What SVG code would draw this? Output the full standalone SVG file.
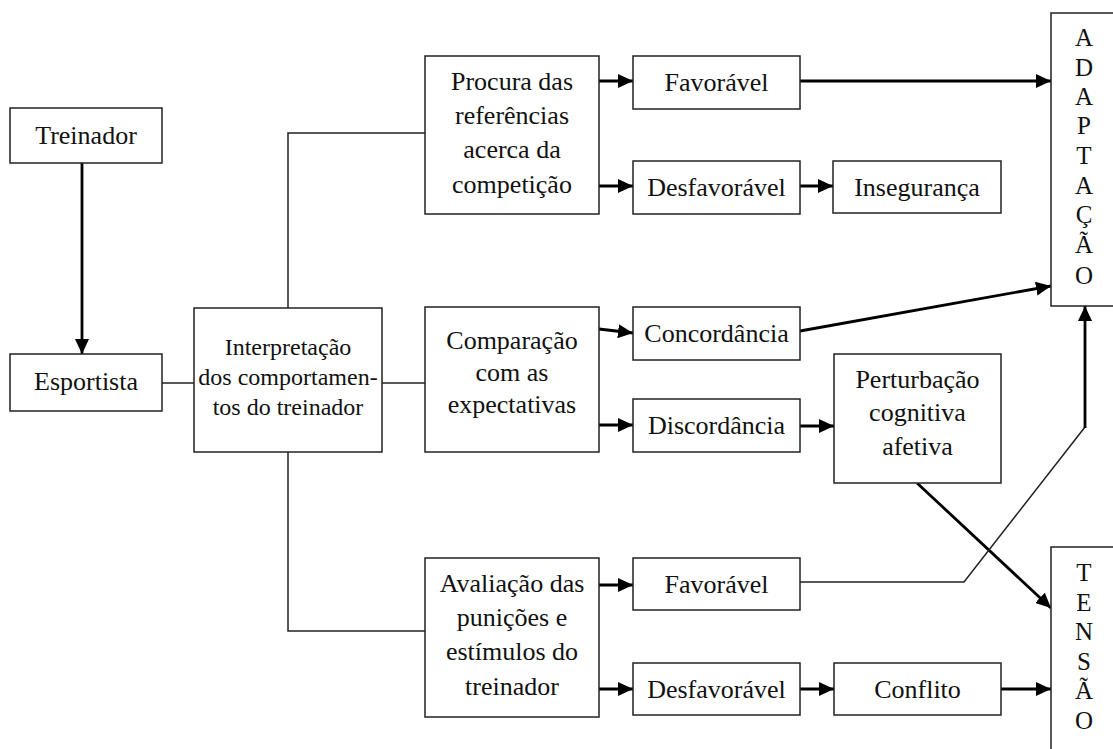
<svg xmlns="http://www.w3.org/2000/svg" width="1113" height="749" viewBox="0 0 1113 749">
<style>
  .box { fill: #fff; stroke: #222; stroke-width: 1.5; }
  .t { font-family: "Liberation Serif", "Times New Roman", serif; font-size: 26px; fill: #111; text-anchor: middle; }
  .ts { font-family: "Liberation Serif", "Times New Roman", serif; font-size: 24px; fill: #111; text-anchor: middle; }
  .v { font-family: "Liberation Serif", "Times New Roman", serif; font-size: 25px; fill: #111; text-anchor: middle; }
  .thin { fill: none; stroke: #222; stroke-width: 1.5; }
  .thick { fill: none; stroke: #000; stroke-width: 2.8; marker-end: url(#ah); }
</style>
<defs>
  <marker id="ah" markerUnits="userSpaceOnUse" markerWidth="15" markerHeight="14" refX="15" refY="7" orient="auto">
    <path d="M0,0 L15,7 L0,14 z" fill="#000"/>
  </marker>
</defs>
<rect width="1113" height="749" fill="#fff"/>

<g id="connectors">
  <line class="thick" x1="82" y1="163" x2="82" y2="354"/>
  <line class="thin" x1="162" y1="383" x2="194" y2="383"/>
  <path class="thin" d="M288,308 V133 H425"/>
  <path class="thin" d="M382,383 H425"/>
  <path class="thin" d="M288,452 V631 H425"/>
  <line class="thick" x1="599" y1="81" x2="633" y2="81"/>
  <line class="thick" x1="599" y1="186" x2="633" y2="186"/>
  <line class="thick" x1="800" y1="81" x2="1051" y2="81"/>
  <line class="thick" x1="800" y1="186" x2="833" y2="186"/>
  <line class="thick" x1="599" y1="329" x2="633" y2="333"/>
  <line class="thick" x1="599" y1="425" x2="633" y2="425"/>
  <line class="thick" x1="800" y1="331" x2="1051" y2="286"/>
  <line class="thick" x1="800" y1="426" x2="834" y2="426"/>
  <line class="thick" x1="917" y1="483" x2="1051" y2="608"/>
  <line class="thick" x1="599" y1="585" x2="633" y2="585"/>
  <line class="thick" x1="599" y1="689" x2="633" y2="689"/>
  <line class="thick" x1="800" y1="689" x2="834" y2="689"/>
  <line class="thick" x1="1001" y1="689" x2="1051" y2="689"/>
  <path class="thin" d="M800,582 H964 L1085,427"/>
  <line class="thick" x1="1085" y1="428" x2="1085" y2="306"/>
</g>

<g id="treinador">
  <rect class="box" x="10" y="108" width="152" height="55"/>
  <text class="t" x="86" y="144">Treinador</text>
</g>
<g id="esportista">
  <rect class="box" x="10" y="354" width="152" height="57"/>
  <text class="t" x="86" y="390">Esportista</text>
</g>
<g id="interpretacao">
  <rect class="box" x="194" y="308" width="188" height="144"/>
  <text class="ts" x="288" y="355">Interpretação</text>
  <text class="ts" x="288" y="385">dos comportamen-</text>
  <text class="ts" x="288" y="415">tos do treinador</text>
</g>
<g id="procura">
  <rect class="box" x="425" y="56" width="174" height="158"/>
  <text class="t" x="512" y="90">Procura das</text>
  <text class="t" x="512" y="124">referências</text>
  <text class="t" x="512" y="158">acerca da</text>
  <text class="t" x="512" y="193">competição</text>
</g>
<g id="favoravel1">
  <rect class="box" x="633" y="56" width="167" height="53"/>
  <text class="t" x="716.5" y="91">Favorável</text>
</g>
<g id="desfavoravel1">
  <rect class="box" x="633" y="161" width="167" height="53"/>
  <text class="t" x="716.5" y="196">Desfavorável</text>
</g>
<g id="inseguranca">
  <rect class="box" x="833" y="161" width="168" height="52"/>
  <text class="t" x="917" y="196">Insegurança</text>
</g>
<g id="comparacao">
  <rect class="box" x="425" y="307" width="174" height="145"/>
  <text class="t" x="512" y="349">Comparação</text>
  <text class="t" x="512" y="381">com as</text>
  <text class="t" x="512" y="413">expectativas</text>
</g>
<g id="concordancia">
  <rect class="box" x="633" y="307" width="167" height="53"/>
  <text class="t" x="716.5" y="342">Concordância</text>
</g>
<g id="discordancia">
  <rect class="box" x="633" y="399" width="167" height="53"/>
  <text class="t" x="716.5" y="434">Discordância</text>
</g>
<g id="perturbacao">
  <rect class="box" x="834" y="354" width="167" height="129"/>
  <text class="t" x="917.5" y="388">Perturbação</text>
  <text class="t" x="917.5" y="421">cognitiva</text>
  <text class="t" x="917.5" y="455">afetiva</text>
</g>
<g id="avaliacao">
  <rect class="box" x="425" y="558" width="174" height="159"/>
  <text class="t" x="512" y="592">Avaliação das</text>
  <text class="t" x="512" y="626">punições e</text>
  <text class="t" x="512" y="660">estímulos do</text>
  <text class="t" x="512" y="695">treinador</text>
</g>
<g id="favoravel2">
  <rect class="box" x="633" y="558" width="167" height="52"/>
  <text class="t" x="716.5" y="593">Favorável</text>
</g>
<g id="desfavoravel2">
  <rect class="box" x="633" y="663" width="167" height="52"/>
  <text class="t" x="716.5" y="698">Desfavorável</text>
</g>
<g id="conflito">
  <rect class="box" x="834" y="663" width="167" height="52"/>
  <text class="t" x="917.5" y="698">Conflito</text>
</g>
<g id="adaptacao">
  <rect class="box" x="1051" y="13" width="70" height="293"/>
  <text class="v" x="1084" y="46">A</text>
  <text class="v" x="1084" y="76">D</text>
  <text class="v" x="1084" y="105">A</text>
  <text class="v" x="1084" y="134">P</text>
  <text class="v" x="1084" y="164">T</text>
  <text class="v" x="1084" y="194">A</text>
  <text class="v" x="1084" y="223">Ç</text>
  <text class="v" x="1084" y="253">Ã</text>
  <text class="v" x="1084" y="284">O</text>
</g>
<g id="tensao">
  <rect class="box" x="1051" y="547" width="70" height="220"/>
  <text class="v" x="1084" y="581">T</text>
  <text class="v" x="1084" y="611">E</text>
  <text class="v" x="1084" y="640">N</text>
  <text class="v" x="1084" y="670">S</text>
  <text class="v" x="1084" y="699">Ã</text>
  <text class="v" x="1084" y="729">O</text>
</g>
</svg>
